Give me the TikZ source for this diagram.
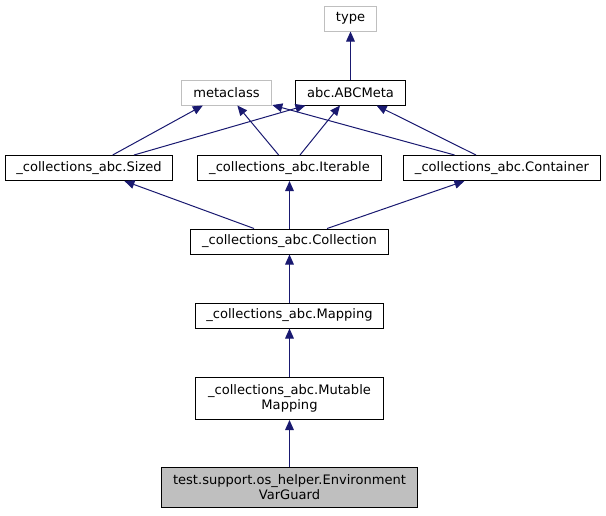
\documentclass[tikz,border=0pt]{standalone}
\usepackage{fontspec}
\setmainfont{DejaVu Sans}
\usetikzlibrary{arrows.meta}
\definecolor{edgeblue}{RGB}{25,25,112}
\definecolor{boxgray}{RGB}{191,191,191}

\begin{document}
\begin{tikzpicture}[x=0.75pt,y=-0.75pt,
  cls/.style={draw=black, line width=0.75pt, inner xsep=8.5pt, inner ysep=0pt,
    minimum height=18.75pt, align=center, font=\fontsize{9.8pt}{11.25pt}\selectfont},
  ext/.style={cls, draw=boxgray},
  inh/.style={edgeblue, line width=0.75pt, -{Triangle[length=7.5pt,width=6.5pt]}}]
\useasboundingbox (0,0) rectangle (606,515);
\node[ext, minimum width=39pt] (type) at (350.5,18.5) {type};
\node[ext, minimum width=68pt] (metaclass) at (226.5,92.5) {metaclass};
\node[cls, minimum width=83pt] (abcmeta) at (350.5,92.5) {abc.ABCMeta};
\node[cls] (sized) at (89,168) {\_collections\_abc.Sized};
\node[cls] (iterable) at (289.5,168) {\_collections\_abc.Iterable};
\node[cls] (container) at (502,168) {\_collections\_abc.Container};
\node[cls] (collection) at (289.5,241.5) {\_collections\_abc.Collection};
\node[cls, minimum width=141pt] (mapping) at (289.5,315.5) {\_collections\_abc.Mapping};
\node[cls, minimum width=141pt, minimum height=31.5pt] (mutable) at (289.5,398.5) {\_collections\_abc.Mutable\\Mapping};
\node[cls, fill=boxgray, minimum height=30pt] (guard) at (289.5,487) {test.support.os\_helper.Environment\\VarGuard};

\draw[inh] (abcmeta) -- (type);
\foreach \c in {sized,iterable,container}{
  \draw[inh] (\c) -- (metaclass);
  \draw[inh] (\c) -- (abcmeta);
  \draw[inh] (collection) -- (\c);
}
\draw[inh] (mapping) -- (collection);
\draw[inh] (mutable) -- (mapping);
\draw[inh] (guard) -- (mutable);
\end{tikzpicture}
\end{document}
